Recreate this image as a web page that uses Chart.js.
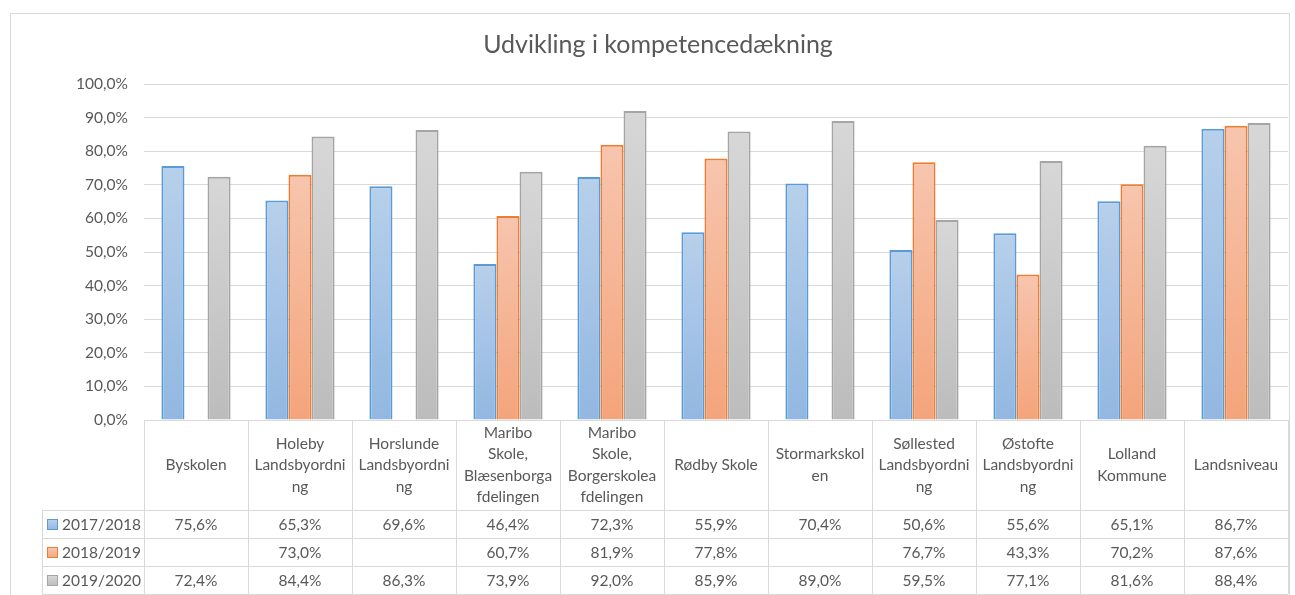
<!DOCTYPE html>
<html>
<head>
<meta charset="utf-8">
<script src="https://cdn.jsdelivr.net/npm/chart.js@4/dist/chart.umd.min.js"></script>
<style>
  html, body { margin: 0; padding: 0; background: #fff; }
  canvas { display: block; }
</style>
</head>
<body>
<canvas id="chart" width="1295" height="595"></canvas>
<script>
// data (percent)
const categories = [
  ["Byskolen"],
  ["Holeby", "Landsbyordni", "ng"],
  ["Horslunde", "Landsbyordni", "ng"],
  ["Maribo", "Skole,", "Blæsenborga", "fdelingen"],
  ["Maribo", "Skole,", "Borgerskolea", "fdelingen"],
  ["Rødby Skole"],
  ["Stormarkskol", "en"],
  ["Søllested", "Landsbyordni", "ng"],
  ["Østofte", "Landsbyordni", "ng"],
  ["Lolland", "Kommune"],
  ["Landsniveau"]
];
const seriesNames = ["2017/2018", "2018/2019", "2019/2020"];
const values1718 = [75.6, 65.3, 69.6, 46.4, 72.3, 55.9, 70.4, 50.6, 55.6, 65.1, 86.7];
const values1819 = [null, 73.0, null, 60.7, 81.9, 77.8, null, 76.7, 43.3, 70.2, 87.6];
const values1920 = [72.4, 84.4, 86.3, 73.9, 92.0, 85.9, 89.0, 59.5, 77.1, 81.6, 88.4];
const yTicks = [0, 10, 20, 30, 40, 50, 60, 70, 80, 90, 100];

const FONT = "Lato, 'Noto Sans', sans-serif";
const TEXT = "#595959";
const LINE = "#d9d9d9";

const fmt = v => v.toFixed(1).replace(".", ",") + "%";

// vertical gradient per bar, light at the top
function barFill(top, bottom) {
  return function (ctx) {
    const chart = ctx.chart;
    if (!chart.chartArea || !ctx.parsed || ctx.parsed.y == null) return bottom;
    const y = chart.scales.y;
    const yTop = y.getPixelForValue(ctx.parsed.y);
    const yBase = y.getPixelForValue(0);
    if (!isFinite(yTop) || yTop === yBase) return bottom;
    const g = chart.ctx.createLinearGradient(0, yTop, 0, yBase);
    g.addColorStop(0, top);
    g.addColorStop(1, bottom);
    return g;
  };
}

const colors = [
  { top: "#b7d0eb", bottom: "#92b7e1", border: "#5b9bd5" },
  { top: "#f7c5ae", bottom: "#f4a47b", border: "#ed7d31" },
  { top: "#d7d7d7", bottom: "#bcbcbc", border: "#a5a5a5" }
];

const seriesValues = [values1718, values1819, values1920];

// outer frame and the data table under the plot
const tablePlugin = {
  id: "dataTable",
  afterDraw(chart) {
    const c = chart.ctx;
    const area = chart.chartArea;
    const x = chart.scales.x;
    const n = categories.length;
    const colW = (area.right - area.left) / n;
    const headTop = area.bottom;
    const headBottom = headTop + 90;
    const rowH = 28;
    const tableLeft = 42;
    const tableBottom = headBottom + rowH * 3;

    c.save();
    // outer frame
    c.strokeStyle = LINE;
    c.lineWidth = 1;
    c.strokeRect(10.5, 13.5, 1279, 600);

    // table grid
    c.beginPath();
    for (let i = 0; i <= n; i++) {
      const gx = Math.round(area.left + i * colW) + 0.5;
      c.moveTo(gx, headTop);
      c.lineTo(gx, tableBottom);
    }
    c.moveTo(tableLeft + 0.5, headBottom);
    c.lineTo(tableLeft + 0.5, tableBottom);
    for (let r = 0; r <= 3; r++) {
      const gy = Math.round(headBottom + r * rowH) + 0.5;
      c.moveTo(tableLeft, gy);
      c.lineTo(area.right, gy);
    }
    c.stroke();

    c.fillStyle = TEXT;
    c.font = "15.5px " + FONT;
    c.textAlign = "center";
    c.textBaseline = "middle";

    // category headers
    const lh = 21.5;
    categories.forEach((lines, i) => {
      const cx = x.getPixelForValue(i);
      const cy = (headTop + headBottom) / 2;
      const y0 = cy - (lines.length - 1) * lh / 2;
      lines.forEach((t, k) => c.fillText(t, cx, y0 + k * lh));
    });

    // value rows
    seriesValues.forEach((vals, r) => {
      const cy = headBottom + r * rowH + rowH / 2 + 1;
      vals.forEach((v, i) => {
        if (v == null) return;
        c.fillText(fmt(v), x.getPixelForValue(i), cy);
      });
      // legend key + series name
      const col = colors[r];
      const g = c.createLinearGradient(0, cy - 5, 0, cy + 5);
      g.addColorStop(0, col.top);
      g.addColorStop(1, col.bottom);
      c.fillStyle = g;
      c.fillRect(47.5, cy - 5.5, 10, 10);
      c.strokeStyle = col.border;
      c.strokeRect(47.5, cy - 5.5, 10, 10);
      c.fillStyle = TEXT;
      c.textAlign = "left";
      c.fillText(seriesNames[r], 62, cy);
      c.textAlign = "center";
    });
    c.restore();
  }
};

new Chart(document.getElementById("chart"), {
  type: "bar",
  data: {
    labels: categories,
    datasets: seriesNames.map((name, i) => ({
      label: name,
      data: seriesValues[i],
      backgroundColor: barFill(colors[i].top, colors[i].bottom),
      borderColor: colors[i].border,
      borderWidth: 2,
      categoryPercentage: 0.665,
      barPercentage: 1
    }))
  },
  options: {
    responsive: false,
    animation: false,
    layout: { padding: { left: 28, right: 7, top: 13, bottom: 175 } },
    plugins: {
      legend: { display: false },
      tooltip: { enabled: false },
      title: {
        display: true,
        text: "Udvikling i kompetencedækning",
        color: TEXT,
        font: { family: FONT, size: 25, weight: "normal" },
        padding: { top: 17, bottom: 24 }
      }
    },
    scales: {
      x: {
        display: false
      },
      y: {
        min: 0,
        max: 100,
        afterFit(s) { s.width = 116; },
        afterBuildTicks(s) { s.ticks = yTicks.map(v => ({ value: v })); },
        border: { display: false },
        grid: { color: LINE, lineWidth: 1, drawTicks: false },
        ticks: {
          padding: 16,
          color: TEXT,
          font: { family: FONT, size: 15.5 },
          callback: v => fmt(v)
        }
      }
    }
  },
  plugins: [tablePlugin]
});
</script>
</body>
</html>
